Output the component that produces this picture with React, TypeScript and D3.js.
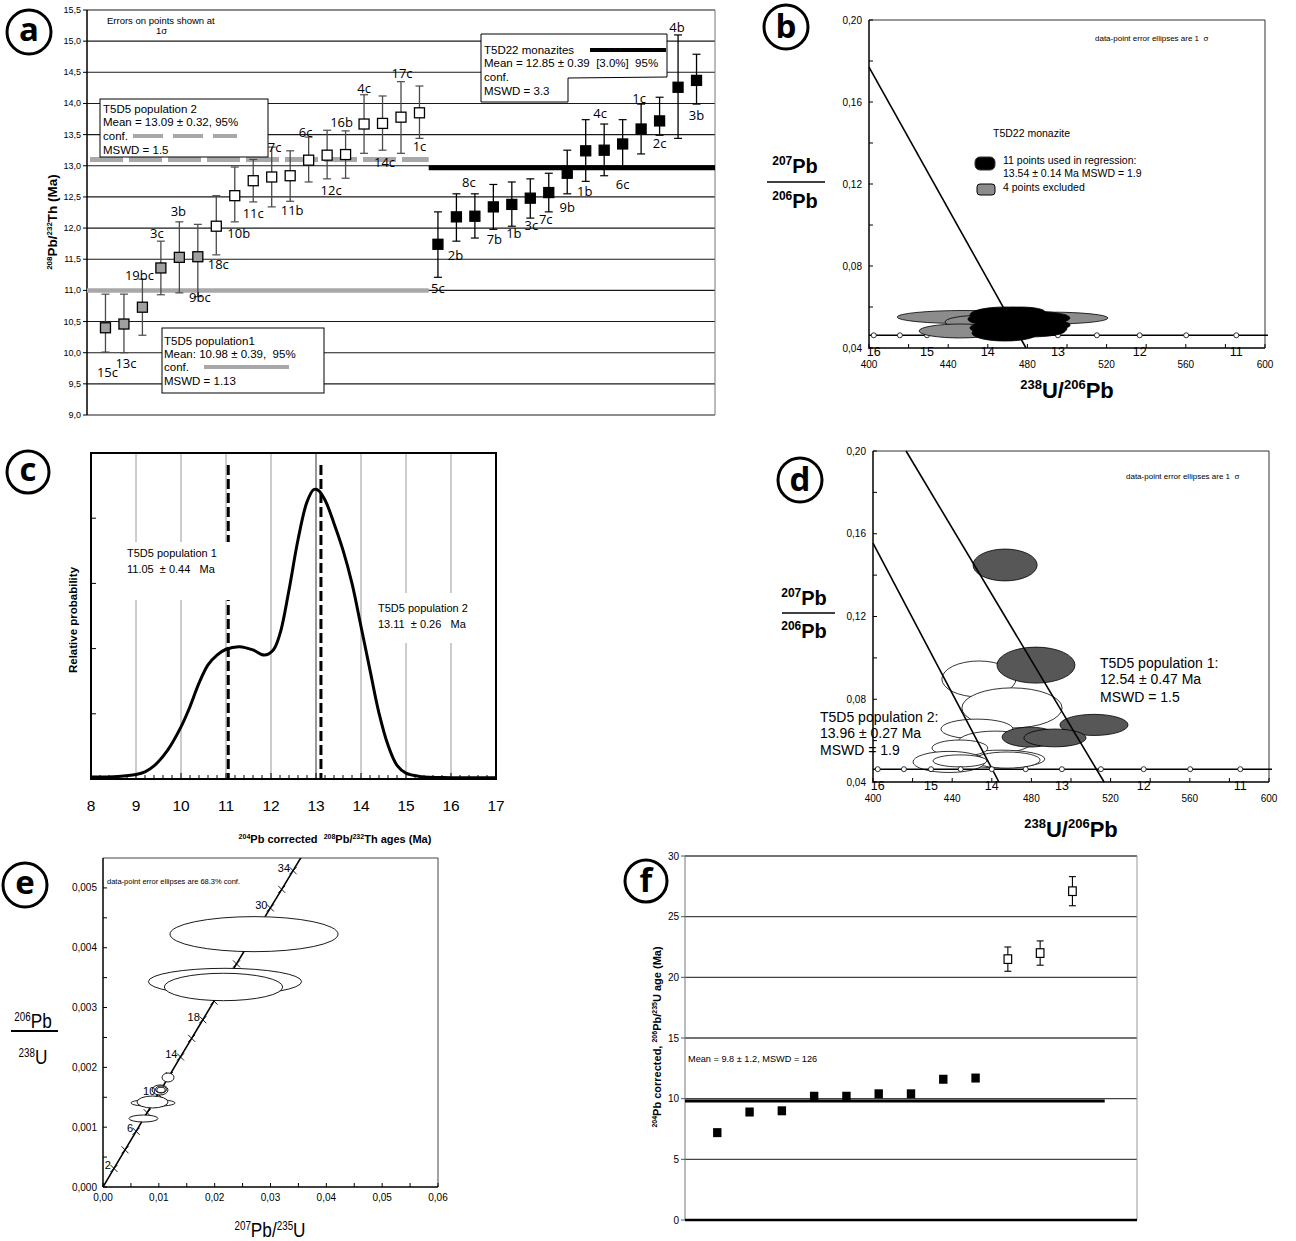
import React from 'react';
import * as d3 from 'd3';

const SANS = "'Liberation Sans', Arial, Helvetica, sans-serif";
const MYR = "'Open Sans', 'Liberation Sans', sans-serif";
const NB = '\u00a0';

/* ---------------- Panel a : 208Pb/232Th ages ---------------- */
const aLabels = ['15c','13c','19bc','3c','3b','9bc','18c','10b','11c','7c','11b','6c','12c','16b','4c','14c','17c','1c','5c','2b','8c','7b','1b','3c','7c','9b','1b','4c','6c','1c','2c','4b','3b'];
const aGroup = ['p1','p1','p1','p1','p1','p1','p2','p2','p2','p2','p2','p2','p2','p2','p2','p2','p2','p2','mz','mz','mz','mz','mz','mz','mz','mz','mz','mz','mz','mz','mz','mz','mz'];
const aAge = [10.40,10.46,10.73,11.36,11.53,11.54,12.03,12.52,12.76,12.82,12.84,13.09,13.17,13.18,13.67,13.68,13.78,13.85,11.74,12.18,12.19,12.34,12.38,12.48,12.57,12.88,13.24,13.25,13.35,13.59,13.72,14.26,14.37];
const aHi = [10.94,10.94,11.18,11.79,12.10,12.06,12.52,12.98,13.10,13.30,13.24,13.46,13.57,13.56,14.14,14.12,14.35,14.28,12.26,12.55,12.55,12.70,12.74,12.79,12.88,13.25,13.74,13.67,13.74,13.99,14.10,15.10,14.79];
const aLo = [10.01,10.00,10.28,10.93,10.96,10.90,11.57,12.10,12.42,12.34,12.43,12.74,12.79,12.80,13.20,13.25,13.20,13.44,11.21,11.79,11.84,11.98,12.03,12.16,12.26,12.55,12.75,12.84,12.95,13.19,13.49,13.44,13.99];
const aTicks = [9, 9.5, 10, 10.5, 11, 11.5, 12, 12.5, 13, 13.5, 14, 14.5, 15, 15.5];
const aMeanValues = [11.0, 13.1, 12.97];
const aMeanFrom = [-1, -1, 17.5];
const aMeanTo = [17.5, 17.5, 33];
// label placement (layout)
const aLabSide = 'bbtttb' + 'bbbtbtbttbtb' + 'bbtbbbbbbtbtbtb';
const aLabDx = [2,2,-3,-4,-1,2, 2,4,0,3,2,-3,4,-4,0,2,1,0, 0,-1,-6,1,2,1,-3,0,-1,-4,0,-2,0,-1,0];
const aLabDy = [10,0,5,1,-2,-10, -1,1,1,9,-1,4,1,0,2,2,0,-2, 1,4,-3,0,-3,-3,-3,3,0,-2,5,3,-2,1,1];

/* ---------------- Panels b, d : Tera-Wasserburg ---------------- */
const twConcordiaY = 0.0462;
const twMarkerX = [402.4, 415.6, 429.3, 444.3, 460.0, 477.1, 495.4, 515.1, 536.7, 560.2, 585.5];
const twAgeLabels = ['16', '15', '14', '13', '12', '11'];
const twAgeLabelX = [402.4, 429.3, 460.0, 495.4, 536.7, 585.5];
const twYTicks = [0.04, 0.06, 0.08, 0.10, 0.12, 0.14, 0.16, 0.18, 0.20];
const twXTicks = [400, 420, 440, 460, 480, 500, 520, 540, 560, 580, 600];

const bDiscordia = [[400, 0.177], [479.3, 0.04]];
// [x, y, rx, ry] in data units
const bGrayEll = [[448.5, 0.0551, 34.3, 0.0032], [491.4, 0.0546, 29.3, 0.0029], [456.1, 0.0527, 17.7, 0.0032], [446.0, 0.0483, 20.7, 0.0034]];
const bBlackEll = [[468.7, 0.0561, 17.7, 0.0039], [481.3, 0.0546, 20.2, 0.0034], [473.7, 0.0507, 19.2, 0.0034], [468.7, 0.0473, 16.7, 0.0039], [481.3, 0.0483, 17.7, 0.0029], [471.2, 0.0532, 15.2, 0.0034], [486.4, 0.0512, 15.2, 0.0029], [463.6, 0.0498, 12.6, 0.0029], [476.3, 0.0576, 12.6, 0.0024], [488.9, 0.0493, 11.1, 0.0024], [461.1, 0.0541, 11.1, 0.0029]];

const dDiscordia1 = [[400, 0.1555], [463.6, 0.04]];
const dDiscordia2 = [[416.7, 0.20], [516.7, 0.04]];
const dWhiteEll = [[453.5, 0.0898, 18.7, 0.0087], [470.2, 0.0758, 25.3, 0.0097], [452.5, 0.0656, 18.2, 0.0048], [461.6, 0.0593, 18.7, 0.0053], [464.6, 0.0511, 22.2, 0.0043], [467.7, 0.0506, 16.7, 0.0039], [443.9, 0.0564, 14.1, 0.0039], [438.4, 0.0497, 18.2, 0.0051], [443.9, 0.0502, 13.6, 0.0029]];
const dDarkEll = [[466.7, 0.1449, 16.2, 0.0077], [482.3, 0.0965, 19.7, 0.0087], [511.6, 0.0676, 17.2, 0.0051], [479.3, 0.0617, 14.1, 0.0048], [491.9, 0.0613, 15.7, 0.0043]];

/* ---------------- Panel c : probability density ---------------- */
const cAge = [8.0, 8.6, 9.0, 9.2, 9.4, 9.7, 10.0, 10.2, 10.4, 10.6, 10.8, 11.0, 11.3, 11.6, 11.85, 12.05, 12.2, 12.4, 12.6, 12.8, 12.95, 13.05, 13.2, 13.4, 13.6, 13.8, 14.0, 14.2, 14.4, 14.6, 14.8, 15.0, 15.3, 16.0, 17.0];
const cProb = [0.03, 0.04, 0.07, 0.11, 0.20, 0.44, 0.80, 1.11, 1.47, 1.75, 1.90, 1.99, 2.03, 1.98, 1.90, 1.98, 2.23, 2.90, 3.67, 4.25, 4.44, 4.43, 4.28, 3.92, 3.51, 3.00, 2.34, 1.67, 1.01, 0.52, 0.21, 0.09, 0.04, 0.02, 0.02];
const cTicks = [8, 9, 10, 11, 12, 13, 14, 15, 16, 17];
const cPopMeans = [11.05, 13.11];

/* ---------------- Panel e : Wetherill concordia ---------------- */
const eAges = [2, 4, 6, 8, 10, 12, 14, 16, 18, 20, 22, 24, 26, 28, 30, 32, 34];
const eConcX = [0.00197, 0.00395, 0.00593, 0.00791, 0.00990, 0.01189, 0.01388, 0.01588, 0.01788, 0.01989, 0.02190, 0.02391, 0.02593, 0.02795, 0.02998, 0.03201, 0.03404];
const eConcY = [0.000310, 0.000621, 0.000931, 0.001242, 0.001553, 0.001863, 0.002174, 0.002485, 0.002796, 0.003107, 0.003419, 0.003730, 0.004041, 0.004353, 0.004665, 0.004976, 0.005288];
const eLabeledAges = [2, 6, 10, 14, 18, 30, 34];
const eEll = [
  [0.02705, 0.004227, 0.01505, 0.000293],
  [0.02185, 0.003433, 0.01373, 0.000223],
  [0.02158, 0.003344, 0.01060, 0.000229],
  [0.01165, 0.001831, 0.00107, 0.000075],
  [0.01021, 0.001622, 0.00143, 0.000084],
  [0.01039, 0.001630, 0.00099, 0.0000585],
  [0.01039, 0.001622, 0.00075, 0.000045],
  [0.00896, 0.001405, 0.00394, 0.0000585],
  [0.00887, 0.001421, 0.00278, 0.000100],
  [0.00725, 0.001145, 0.00260, 0.0000585],
];
const eYTicks = [0, 0.0005, 0.001, 0.0015, 0.002, 0.0025, 0.003, 0.0035, 0.004, 0.0045, 0.005];
const eXTicks = [0, 0.005, 0.01, 0.015, 0.02, 0.025, 0.03, 0.035, 0.04, 0.045, 0.05, 0.055, 0.06];

/* ---------------- Panel f : 206Pb/235U ages ---------------- */
const fAge = [7.2, 8.9, 9.0, 10.2, 10.2, 10.4, 10.4, 11.6, 11.7, 21.5, 22.0, 27.1];
const fErr = [0, 0, 0, 0, 0, 0, 0, 0, 0, 1.0, 1.0, 1.2];
const fType = ['f', 'f', 'f', 'f', 'f', 'f', 'f', 'f', 'f', 'o', 'o', 'o'];
const fMean = 9.8;
const fTicks = [0, 5, 10, 15, 20, 25, 30];

const comma = (v: number, d: number) => v.toFixed(d).replace('.', ',');
const nb = (s: string) => s.replace(/ /g, NB);

function supSegs(segs: [string, boolean][], big: number, small: number, shift: number) {
  let prev = false;
  return segs.map(([t, s], i) => {
    let dy = 0;
    if (s && !prev) dy = -shift;
    else if (!s && prev) dy = shift;
    prev = s;
    return <tspan key={i} fontSize={s ? small : big} dy={dy}>{nb(t)}</tspan>;
  });
}

function CircleLabel({ cx, cy, r, letter, asc }: any) {
  return (
    <g>
      <circle cx={cx} cy={cy} r={r} fill="#fff" stroke="#000" strokeWidth={3} />
      <text x={cx} y={cy + (asc ? 11 : 9)} textAnchor="middle" fontSize={33} fontWeight="bold" fontFamily={MYR}>{letter}</text>
    </g>
  );
}

function ell(sx: any, sy: any, e: number[], i: number, fill: string, sw = 0.8) {
  const [x, y, rx, ry] = e;
  return <ellipse key={i} cx={sx(x)} cy={sy(y)} rx={Math.abs(sx(x + rx) - sx(x))} ry={Math.abs(sy(y + ry) - sy(y))} fill={fill} stroke="#000" strokeWidth={sw} />;
}

function PanelA() {
  const idx = aAge.map((_, i) => i);
  const x = d3.scalePoint<number>().domain(idx).range([87, 715]).padding(1);
  const step = x.step();
  const xi = (i: number) => (x(0) as number) + i * step;
  const y = d3.scaleLinear().domain([9, 15.5]).range([415, 10]);
  const [L, R] = x.range();
  const meanStyles = [
    { stroke: '#a8a8a8', w: 4.5, dash: undefined },
    { stroke: '#a8a8a8', w: 5, dash: '33 6' },
    { stroke: '#000', w: 5, dash: undefined },
  ];
  return (
    <g>
      {aTicks.map((v) => <line key={'g' + v} x1={L} x2={R} y1={y(v)} y2={y(v)} stroke="#1a1a1a" strokeWidth={1.1} />)}
      <line x1={R} x2={R} y1={y(15.5)} y2={y(9)} stroke="#777" strokeWidth={1} />
      <line x1={L} x2={L} y1={y(15.5)} y2={y(9)} stroke="#000" strokeWidth={1.5} />
      {aTicks.map((v) => (
        <g key={'t' + v}>
          <line x1={L - 4} x2={L} y1={y(v)} y2={y(v)} stroke="#000" />
          <text x={L - 6} y={y(v) + 3} fontSize={9} textAnchor="end">{comma(v, 1)}</text>
        </g>
      ))}
      <text transform={`translate(57,222) rotate(-90)`} textAnchor="middle" fontWeight="bold">
        {supSegs([['208', true], ['Pb/', false], ['232', true], ['Th (Ma)', false]], 13.5, 8, 5)}
      </text>
      <text x={107} y={24} fontSize={9.5}>Errors on points shown at</text>
      <text x={156} y={34} fontSize={9.5}>1σ</text>

      {aMeanValues.map((v, k) => (
        <line key={'m' + k} x1={xi(aMeanFrom[k])} x2={xi(aMeanTo[k])} y1={y(v)} y2={y(v)}
          stroke={meanStyles[k].stroke} strokeWidth={meanStyles[k].w} strokeDasharray={meanStyles[k].dash}
          strokeDashoffset={meanStyles[k].dash ? 36 : undefined} />
      ))}

      {aAge.map((v, i) => {
        const px = x(i) as number;
        const g = aGroup[i];
        const col = g === 'mz' ? '#000' : '#4a4a4a';
        const fill = g === 'p1' ? '#a0a0a0' : g === 'p2' ? '#fff' : '#000';
        return (
          <g key={'p' + i}>
            <line x1={px} x2={px} y1={y(aHi[i])} y2={y(aLo[i])} stroke={col} strokeWidth={1.3} />
            <line x1={px - 4} x2={px + 4} y1={y(aHi[i])} y2={y(aHi[i])} stroke={col} strokeWidth={1.2} />
            <line x1={px - 4} x2={px + 4} y1={y(aLo[i])} y2={y(aLo[i])} stroke={col} strokeWidth={1.2} />
            <rect x={px - 5} y={y(v) - 5} width={10} height={10} fill={fill} stroke="#000" strokeWidth={1.3} />
          </g>
        );
      })}
      {aLabels.map((t, i) => {
        const px = (x(i) as number) + aLabDx[i];
        const py = (aLabSide[i] === 't' ? y(aHi[i]) - 4 : y(aLo[i]) + 15) + aLabDy[i];
        return <text key={'l' + i} x={px} y={py} textAnchor="middle" fontSize={13} fontFamily={MYR}>{t}</text>;
      })}

      {/* T5D5 population 2 box */}
      <rect x={100} y={99} width={168} height={58} fill="#fff" stroke="#000" strokeWidth={1} />
      <text x={103} y={113} fontSize={11.5}>T5D5 population 2</text>
      <text x={103} y={126} fontSize={11.5}>Mean = 13.09 ± 0.32, 95%</text>
      <text x={103} y={140} fontSize={11.5}>conf.</text>
      <line x1={133} x2={237} y1={136} y2={136} stroke="#a8a8a8" strokeWidth={4} strokeDasharray="30 10" />
      <text x={103} y={154} fontSize={11.5}>MSWD = 1.5</text>

      {/* T5D22 monazites box */}
      <polygon points="481,34 667,34 667,77 568,78 568,102 481,102" fill="#fff" stroke="#000" strokeWidth={1} />
      <text x={484} y={54} fontSize={11.5}>T5D22 monazites</text>
      <line x1={590} x2={666} y1={50} y2={50} stroke="#000" strokeWidth={4} />
      <text x={484} y={67} fontSize={11.5}>{nb('Mean = 12.85 ± 0.39  [3.0%]  95%')}</text>
      <text x={484} y={81} fontSize={11.5}>conf.</text>
      <text x={484} y={95} fontSize={11.5}>MSWD = 3.3</text>

      {/* T5D5 population1 box */}
      <rect x={162} y={328} width={162} height={65} fill="#fff" stroke="#000" strokeWidth={1} />
      <text x={164} y={345} fontSize={11.5}>T5D5 population1</text>
      <text x={164} y={358} fontSize={11.5}>{nb('Mean: 10.98 ± 0.39,  95%')}</text>
      <text x={164} y={371} fontSize={11.5}>conf.</text>
      <line x1={204} x2={289} y1={367} y2={367} stroke="#a8a8a8" strokeWidth={4} />
      <text x={164} y={385} fontSize={11.5}>MSWD = 1.13</text>

      <CircleLabel cx={29} cy={32} r={22} letter="a" />
    </g>
  );
}

function twAxes(sx: any, sy: any) {
  const [x0, x1] = sx.range();
  const [y0, y1] = sy.range();
  return (
    <g>
      <line x1={x0} x2={x1} y1={y1} y2={y1} stroke="#333" strokeWidth={1} />
      <line x1={x1} x2={x1} y1={y1} y2={y0} stroke="#333" strokeWidth={1} />
      <line x1={x0} x2={x0} y1={y1} y2={y0} stroke="#000" strokeWidth={1.5} />
      <line x1={x0} x2={x1} y1={y0} y2={y0} stroke="#000" strokeWidth={1.5} />
      {twYTicks.map((v, i) => <line key={'yt' + i} x1={x0} x2={x0 + 4} y1={sy(v)} y2={sy(v)} stroke="#000" />)}
      {twYTicks.filter((_, i) => i % 2 === 0).map((v, i) => (
        <text key={'yl' + i} x={x0 - 7} y={sy(v) + 3.5} fontSize={10} textAnchor="end">{comma(v, 2)}</text>
      ))}
      {twXTicks.map((v, i) => <line key={'xt' + i} x1={sx(v)} x2={sx(v)} y1={y0} y2={y0 - 4} stroke="#000" />)}
      {twXTicks.filter((_, i) => i % 2 === 0).map((v, i) => (
        <text key={'xl' + i} x={sx(v)} y={y0 + 20} fontSize={10} textAnchor="middle">{v}</text>
      ))}
      {twAgeLabels.map((t, i) => (
        <text key={'al' + i} x={sx(twAgeLabelX[i])} y={y0 + 8} fontSize={12.5} textAnchor="middle">{t}</text>
      ))}
    </g>
  );
}

function twConcordia(sx: any, sy: any) {
  return (
    <g>
      <line x1={sx(400)} x2={sx(601.5)} y1={sy(twConcordiaY)} y2={sy(twConcordiaY)} stroke="#000" strokeWidth={1.5} />
      {twMarkerX.map((v, i) => <circle key={i} cx={sx(v)} cy={sy(twConcordiaY)} r={2.5} fill="#fff" stroke="#000" strokeWidth={0.8} />)}
    </g>
  );
}

function twTitles(cx: number, b1: number, lineY: number, lx0: number, lx1: number, b2: number, xcx: number, xb: number) {
  return (
    <g fontWeight="bold">
      <text x={cx} y={b1} textAnchor="middle">{supSegs([['207', true], ['Pb', false]], 20, 12, 8)}</text>
      <line x1={lx0} x2={lx1} y1={lineY} y2={lineY} stroke="#000" strokeWidth={1.6} />
      <text x={cx} y={b2} textAnchor="middle">{supSegs([['206', true], ['Pb', false]], 20, 12, 8)}</text>
      <text x={xcx} y={xb} textAnchor="middle">{supSegs([['238', true], ['U/', false], ['206', true], ['Pb', false]], 22, 13, 9)}</text>
    </g>
  );
}

function PanelB() {
  const sx = d3.scaleLinear().domain([400, 600]).range([869, 1265]);
  const sy = d3.scaleLinear().domain([0.04, 0.20]).range([348, 20]);
  const line = d3.line<number[]>().x((d) => sx(d[0])).y((d) => sy(d[1]));
  return (
    <g>
      {twAxes(sx, sy)}
      {twConcordia(sx, sy)}
      <path d={line(bDiscordia as any) as string} stroke="#000" strokeWidth={1.6} fill="none" />
      {bGrayEll.map((e, i) => ell(sx, sy, e, i, '#8c8c8c'))}
      {bBlackEll.map((e, i) => ell(sx, sy, e, 100 + i, '#000'))}
      <text x={1095} y={41} fontSize={8}>{nb('data-point error ellipses are 1  σ')}</text>
      <text x={993} y={137} fontSize={10.5}>T5D22 monazite</text>
      <rect x={975} y={157} width={20} height={13} rx={5} fill="#000" stroke="#333" />
      <text x={1003} y={164} fontSize={10.5}>11 points used in regression:</text>
      <text x={1003} y={177} fontSize={10.5}>13.54 ± 0.14 Ma MSWD = 1.9</text>
      <rect x={977} y={184} width={18} height={11} rx={3} fill="#8c8c8c" stroke="#000" />
      <text x={1003} y={191} fontSize={10.5}>4 points excluded</text>
      {twTitles(795, 173, 182, 767, 825, 208, 1067, 398)}
      <CircleLabel cx={786} cy={27} r={22} letter="b" asc />
    </g>
  );
}

function PanelD() {
  const sx = d3.scaleLinear().domain([400, 600]).range([873, 1269]);
  const sy = d3.scaleLinear().domain([0.04, 0.20]).range([782, 451]);
  const line = d3.line<number[]>().x((d) => sx(d[0])).y((d) => sy(d[1]));
  return (
    <g>
      {twAxes(sx, sy)}
      {dWhiteEll.map((e, i) => ell(sx, sy, e, i, '#fff'))}
      {dDarkEll.map((e, i) => ell(sx, sy, e, 100 + i, '#575757'))}
      <text x={820} y={722} fontSize={14}>T5D5 population 2:</text>
      <text x={820} y={738} fontSize={14}>13.96 ± 0.27 Ma</text>
      <text x={820} y={755} fontSize={14}>MSWD = 1.9</text>
      <path d={line(dDiscordia1 as any) as string} stroke="#000" strokeWidth={1.6} fill="none" />
      <path d={line(dDiscordia2 as any) as string} stroke="#000" strokeWidth={1.6} fill="none" />
      {twConcordia(sx, sy)}
      <text x={1126} y={479} fontSize={8}>{nb('data-point error ellipses are 1  σ')}</text>
      <text x={1100} y={668} fontSize={14}>T5D5 population 1:</text>
      <text x={1100} y={684} fontSize={14}>12.54 ± 0.47 Ma</text>
      <text x={1100} y={702} fontSize={14}>MSWD = 1.5</text>
      {twTitles(804, 605, 613, 782, 835, 638, 1071, 837)}
      <CircleLabel cx={800} cy={480} r={22} letter="d" asc />
    </g>
  );
}

function PanelC() {
  const sx = d3.scaleLinear().domain([8, 17]).range([91, 496]);
  const sy = d3.scaleLinear().domain([0, 5]).range([779, 453]);
  const line = d3.line<number>().x((_, i) => sx(cAge[i])).y((d) => sy(d)).curve(d3.curveCatmullRom.alpha(0.5));
  const minor = d3.range(8, 17.001, 0.2);
  return (
    <g>
      {cTicks.slice(1, -1).map((v) => (
        <line key={'g' + v} x1={sx(v)} x2={sx(v)} y1={sy(5)} y2={sy(0)} stroke={v === 13 ? '#333' : '#9a9a9a'} strokeWidth={1} />
      ))}
      <rect x={370} y={593} width={105} height={50} fill="#fff" />
      {cPopMeans.map((v, i) => (
        <line key={'pm' + i} x1={sx(v)} x2={sx(v)} y1={465} y2={sy(0)} stroke="#000" strokeWidth={3} strokeDasharray="10 4" />
      ))}
      <rect x={120} y={542} width={112} height={58} fill="#fff" />
      <path d={line(cProb) as string} fill="none" stroke="#000" strokeWidth={3} />
      <rect x={91} y={453} width={405} height={326} fill="none" stroke="#000" strokeWidth={2} />
      {[1, 2, 3, 4].map((v) => <line key={'yt' + v} x1={91} x2={96} y1={sy(v)} y2={sy(v)} stroke="#000" />)}
      {minor.map((v, i) => <line key={'xm' + i} x1={sx(v)} x2={sx(v)} y1={779} y2={i % 5 === 0 ? 773 : 775} stroke="#000" />)}
      {cTicks.map((v) => <text key={'xl' + v} x={sx(v)} y={811} fontSize={15.5} textAnchor="middle">{v}</text>)}
      <text x={127} y={557} fontSize={11}>T5D5 population 1</text>
      <text x={127} y={573} fontSize={11}>{nb('11.05  ± 0.44   Ma')}</text>
      <text x={378} y={612} fontSize={11}>T5D5 population 2</text>
      <text x={378} y={628} fontSize={11}>{nb('13.11  ± 0.26   Ma')}</text>
      <text transform="translate(77,620) rotate(-90)" textAnchor="middle" fontSize={11.5} fontWeight="bold">Relative probability</text>
      <text x={335} y={843} textAnchor="middle" fontWeight="bold">
        {supSegs([['204', true], ['Pb corrected  ', false], ['208', true], ['Pb/', false], ['232', true], ['Th ages (Ma)', false]], 11, 7, 4)}
      </text>
      <CircleLabel cx={28} cy={472} r={21} letter="c" />
    </g>
  );
}

function PanelE() {
  const sx = d3.scaleLinear().domain([0, 0.06]).range([103, 438]);
  const sy = d3.scaleLinear().domain([0, 0.0055]).range([1187, 858]);
  const pts = [[0, 0], ...eConcX.map((v, i) => [v, eConcY[i]]), [0.0358, 0.00556]];
  const line = d3.line<number[]>().x((d) => sx(d[0])).y((d) => sy(d[1]));
  return (
    <g>
      <defs>
        <clipPath id="eclip"><rect x={103} y={858} width={335} height={329} /></clipPath>
      </defs>
      <line x1={103} x2={438} y1={858} y2={858} stroke="#444" strokeWidth={1} />
      <line x1={438} x2={438} y1={858} y2={1187} stroke="#444" strokeWidth={1} />
      <path d={line(pts as any) as string} fill="none" stroke="#000" strokeWidth={1.6} clipPath="url(#eclip)" />
      {eConcX.map((v, i) => (
        <g key={'mk' + i} stroke="#000" strokeWidth={0.9}>
          <line x1={sx(v) - 3.5} x2={sx(v) + 3.5} y1={sy(eConcY[i]) - 3.5} y2={sy(eConcY[i]) + 3.5} />
          <line x1={sx(v) - 3.5} x2={sx(v) + 3.5} y1={sy(eConcY[i]) + 3.5} y2={sy(eConcY[i]) - 3.5} />
        </g>
      ))}
      {eEll.map((e, i) => ell(sx, sy, e, i, '#fff', 0.9))}
      {eAges.map((a, i) => eLabeledAges.includes(a) ? (
        <text key={'el' + i} x={sx(eConcX[i]) - 3} y={sy(eConcY[i]) + 1} fontSize={11} textAnchor="end">{a}</text>
      ) : null)}
      <line x1={103} x2={103} y1={858} y2={1187} stroke="#000" strokeWidth={1.5} />
      <line x1={103} x2={438} y1={1187} y2={1187} stroke="#000" strokeWidth={1.5} />
      {eYTicks.map((v, i) => <line key={'yt' + i} x1={103} x2={107} y1={sy(v)} y2={sy(v)} stroke="#000" />)}
      {eYTicks.filter((_, i) => i % 2 === 0).map((v, i) => (
        <text key={'yl' + i} x={97} y={sy(v) + 3.5} fontSize={10} textAnchor="end">{comma(v, 3)}</text>
      ))}
      {eXTicks.map((v, i) => <line key={'xt' + i} x1={sx(v)} x2={sx(v)} y1={1187} y2={1183} stroke="#000" />)}
      {eXTicks.filter((_, i) => i % 2 === 0).map((v, i) => (
        <text key={'xl' + i} x={sx(v)} y={1201} fontSize={10} textAnchor="middle">{comma(v, 2)}</text>
      ))}
      <text x={107} y={884} fontSize={7.5}>data-point error ellipses are 68.3% conf.</text>
      <text transform="translate(33,1028) scale(0.82,1)" textAnchor="middle">{supSegs([['206', true], ['Pb', false]], 21, 12, 7)}</text>
      <line x1={11} x2={58} y1={1031} y2={1031} stroke="#000" strokeWidth={2} />
      <text transform="translate(33,1064) scale(0.82,1)" textAnchor="middle">{supSegs([['238', true], ['U', false]], 21, 12, 7)}</text>
      <text transform="translate(270,1237) scale(0.82,1)" textAnchor="middle">{supSegs([['207', true], ['Pb/', false], ['235', true], ['U', false]], 21, 12, 7)}</text>
      <CircleLabel cx={25} cy={885} r={22} letter="e" />
    </g>
  );
}

function PanelF() {
  const sx = d3.scaleLinear().domain([-1, 13]).range([685, 1137]);
  const sy = d3.scaleLinear().domain([0, 30]).range([1220, 856]);
  return (
    <g>
      {fTicks.slice(1).map((v) => <line key={'g' + v} x1={685} x2={1137} y1={sy(v)} y2={sy(v)} stroke="#444" strokeWidth={1.3} />)}
      <line x1={1137} x2={1137} y1={sy(30)} y2={sy(0)} stroke="#999" strokeWidth={1} />
      <line x1={685} x2={685} y1={sy(30)} y2={sy(0)} stroke="#777" strokeWidth={1} />
      {fTicks.map((v) => (
        <g key={'t' + v}>
          <line x1={681} x2={685} y1={sy(v)} y2={sy(v)} stroke="#555" />
          <text x={679} y={sy(v) + 3.5} fontSize={10} textAnchor="end">{v}</text>
        </g>
      ))}
      <line x1={685} x2={1137} y1={sy(0)} y2={sy(0)} stroke="#000" strokeWidth={2.5} />
      <line x1={sx(-1)} x2={sx(12)} y1={sy(fMean)} y2={sy(fMean)} stroke="#000" strokeWidth={3} />
      {fAge.map((v, i) => {
        const px = sx(i);
        const py = sy(v);
        return (
          <g key={'p' + i}>
            {fErr[i] > 0 && (
              <g stroke="#000" strokeWidth={1.1}>
                <line x1={px} x2={px} y1={sy(v + fErr[i])} y2={sy(v - fErr[i])} />
                <line x1={px - 3.5} x2={px + 3.5} y1={sy(v + fErr[i])} y2={sy(v + fErr[i])} />
                <line x1={px - 3.5} x2={px + 3.5} y1={sy(v - fErr[i])} y2={sy(v - fErr[i])} />
              </g>
            )}
            {fType[i] === 'f'
              ? <rect x={px - 4.2} y={py - 4.5} width={8.4} height={9} fill="#000" />
              : <rect x={px - 3.8} y={py - 4.3} width={7.6} height={8.6} fill="#fff" stroke="#000" strokeWidth={1.2} />}
          </g>
        );
      })}
      <text x={688} y={1062} fontSize={9.2}>Mean = 9.8 ± 1.2, MSWD = 126</text>
      <text transform="translate(661,1037) rotate(-90)" textAnchor="middle" fontWeight="bold">
        {supSegs([['204', true], ['Pb corrected, ', false], ['206', true], ['Pb/', false], ['235', true], ['U age (Ma)', false]], 11, 7, 4)}
      </text>
      <CircleLabel cx={646} cy={881} r={21} letter="f" asc />
    </g>
  );
}

export default function App() {
  return (
    <svg width={1296} height={1241} viewBox="0 0 1296 1241" fontFamily={SANS}
      style={{ position: 'absolute', left: 0, top: 0, background: '#fff' }}>
      <rect x={0} y={0} width={1296} height={1241} fill="#fff" />
      <PanelA />
      <PanelB />
      <PanelC />
      <PanelD />
      <PanelE />
      <PanelF />
    </svg>
  );
}
